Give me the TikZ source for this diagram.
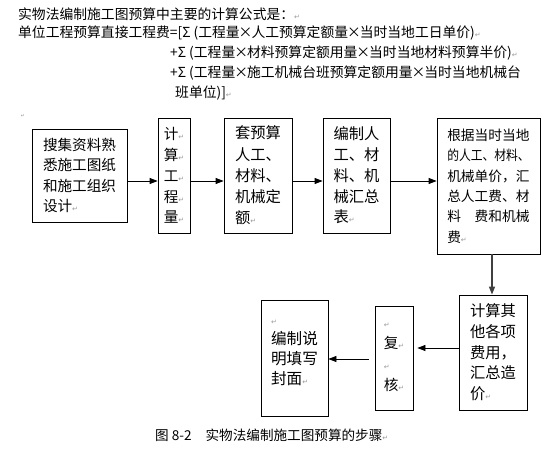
\documentclass[tikz,border=0pt]{standalone}
\usepackage{fontspec}
\setmainfont{Noto Sans CJK SC}
\newfontfamily\symfont{DejaVu Sans}
\usetikzlibrary{arrows.meta}

\newcommand{\ret}{{\symfont\fontsize{7}{7}\selectfont\color{black!40}↵}}
\newcommand{\tm}{\makebox[0.85em]{×}}

\tikzset{
  stepbox/.style={draw, line width=0.8pt, inner sep=0pt, align=left},
  flow/.style={-{Triangle[length=8pt,width=6pt]}, line width=0.8pt},
  headline/.style={anchor=west, inner sep=0pt, font=\fontsize{13.8}{14}\selectfont},
}

\begin{document}
\begin{tikzpicture}[x=1pt,y=1pt,yscale=-1,xscale=1]
\useasboundingbox (0,0) rectangle (560,450);

% Text Node
\node[headline] (title) at (18,14) {实物法编制施工图预算中主要的计算公式是：\ret};
% Text Node
\node[headline] (formula) at (18,33) {单位工程预算直接工程费=[Σ (工程量\tm 人工预算定额量\tm 当时当地工日单价)\ret};
% Text Node
\node[headline] (material) at (170,53) {+Σ (工程量\tm 材料预算定额用量\tm 当时当地材料预算半价)\ret};
% Text Node
\node[headline] (machine) at (170,73) {+Σ (工程量\tm 施工机械台班预算定额用量\tm 当时当地机械台};
% Text Node
\node[headline] (machineend) at (175,93) {班单位)]\ret};
% Text Node
\node[inner sep=0pt] (mark) at (23,116) {\scalebox{0.7}{\ret}};

%Shape: Rectangle
\node[stepbox, minimum width=95, minimum height=93, font=\fontsize{14.6}{20.6}\selectfont] (collect) at (79.5,175.5) {搜集资料熟\\悉施工图纸\\和施工组织\\设计\ret};
%Shape: Rectangle
\node[stepbox, minimum width=32, minimum height=115, font=\fontsize{14.6}{20.8}\selectfont] (qty) at (174,175.5) {计\ret\\算\ret\\工\ret\\程\ret\\量\ret};
%Shape: Rectangle
\node[stepbox, minimum width=68, minimum height=115, font=\fontsize{15.3}{21.2}\selectfont] (norm) at (258,175.5) {套预算\\人工、\\材料、\\机械定\\额\ret};
%Shape: Rectangle
\node[stepbox, minimum width=67, minimum height=115, font=\fontsize{15.3}{20.8}\selectfont] (summary) at (356.5,175.5) {编制人\\工、材\\料、机\\械汇总\\表\ret};
%Shape: Rectangle
\node[stepbox, minimum width=103, minimum height=136, font=\fontsize{13.7}{20.4}\selectfont] (price) at (488.5,186) {根据当时当地\\\scalebox{0.86}[1]{的人工、材料、}\\机械单价，汇\\总人工费、材\\料\hspace{1em}费和机械\\费\ret};
%Shape: Rectangle
\node[stepbox, minimum width=68, minimum height=115, font=\fontsize{15.3}{20.7}\selectfont] (other) at (493,352.5) {计算其\\他各项\\费用，\\汇总造\\价\ret};
%Shape: Rectangle
\node[stepbox, minimum width=38, minimum height=104, text depth=11, font=\fontsize{14.6}{21}\selectfont] (check) at (394,358) {\vphantom{复}\ret\\复\ret\\\ret\\核\ret};
%Shape: Rectangle
\node[stepbox, minimum width=67, minimum height=116, text depth=21, font=\fontsize{15.6}{20}\selectfont] (cover) at (294.5,358) {\vphantom{编}\ret\\编制说\\明填写\\封面\ret};

\coordinate (row) at (0,181);
\coordinate (col) at (492,0);
\coordinate (row2) at (0,348);
\coordinate (row3) at (0,359);

%Straight Lines
\draw[flow] (collect.east |- row) -- (qty.west |- row);
\draw[flow] (qty.east |- row) -- (norm.west |- row);
\draw[flow] (norm.east |- row) -- (summary.west |- row);
\draw[flow] (summary.east |- row) -- (price.west |- row);
%Straight Lines
\draw[flow, draw=black!75, line width=1.4pt] (price.south -| col) -- (other.north -| col);
%Straight Lines
\draw[flow, shorten >=4pt] (other.west |- row2) -- (check.east |- row2);
\draw[flow, shorten <=6pt] (check.west |- row3) -- (cover.east |- row3);

% Text Node
\node[headline, font=\fontsize{13.6}{14}\selectfont] (caption) at (155,435) {图\hspace{3pt}8-2\hspace{14pt}实物法编制施工图预算的步骤\ret};

\end{tikzpicture}
\end{document}
